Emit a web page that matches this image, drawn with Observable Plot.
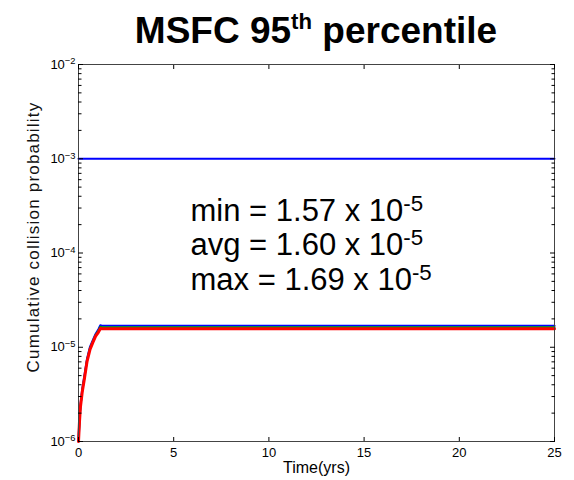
<!DOCTYPE html>
<html>
<head>
<meta charset="utf-8">
<script src="https://cdn.jsdelivr.net/npm/d3@7"></script>
<script src="https://cdn.jsdelivr.net/npm/@observablehq/plot@0.6"></script>
<style>
  body { margin: 0; background: #fff; font-family: "Liberation Sans", Arial, sans-serif; }
  #title { height: 50px; padding-top: 12px; line-height: 37px; font-size: 37px; font-weight: bold; text-align: center; padding-left: 58px; box-sizing: border-box; width: 574px; color: #000; white-space: nowrap; }
  #title sup { font-size: 0.6em; line-height: 0; vertical-align: 0.62em; }
</style>
</head>
<body>
<div id="title">MSFC 95<sup>th</sup> percentile</div>
<div id="chart"></div>
<script>
// Data
const times   = [0, 0.05, 0.1, 0.2, 0.3, 0.45, 0.6, 0.75, 0.9, 1.05, 1.15, 1.22, 25];
const maxRun  = [1.0e-6, 1.7e-6, 2.4e-6, 3.6e-6, 4.8e-6, 7.5e-6, 1.0e-5, 1.18e-5, 1.38e-5, 1.55e-5, 1.71e-5, 1.69e-5, 1.69e-5];
const avgRun  = [1.0e-6, 1.65e-6, 2.35e-6, 3.5e-6, 4.6e-6, 7.3e-6, 9.7e-6, 1.15e-5, 1.35e-5, 1.5e-5, 1.65e-5, 1.63e-5, 1.63e-5];
const minRun  = [1.0e-6, 1.6e-6, 2.3e-6, 3.4e-6, 4.5e-6, 7.1e-6, 9.4e-6, 1.12e-5, 1.31e-5, 1.45e-5, 1.58e-5, 1.57e-5, 1.57e-5];
const threshold = 1e-3;
const xTicks = [0, 5, 10, 15, 20, 25];
const yDecades = [1e-6, 1e-5, 1e-4, 1e-3, 1e-2];
const yDecadeLabels = ["10^−6", "10^−5", "10^−4", "10^−3", "10^−2"];
const statLabels = ["min = 1.57 x 10^-5", "avg = 1.60 x 10^-5", "max = 1.69 x 10^-5"];
const seriesNames = ["max", "avg", "min"];
const seriesColors = ["#0000ff", "#00a000", "#ff0000"];
const xLabel = "Time(yrs)";
const yLabel = "Cumulative collision probability";

const yMinor = [];
for (let e = -6; e < -2; e++) for (let m = 2; m <= 9; m++) yMinor.push(+(m + "e" + e));

const rows = [];
[maxRun, avgRun, minRun].forEach((arr, s) => {
  times.forEach((t, i) => rows.push({t, p: arr[i], s: seriesNames[s]}));
});
const thrRows = [{t: 0, p: threshold}, {t: 25, p: threshold}];

const font = "Liberation Sans, Arial, sans-serif";
const lineWidths = {max: 2.2, avg: 2, min: 3};

const marks = [
  Plot.line(thrRows, {x: "t", y: "p", stroke: "#0000ff", strokeWidth: 2}),
  ...seriesNames.map((n, k) => Plot.line(rows.filter(r => r.s === n), {x: "t", y: "p", stroke: seriesColors[k], strokeWidth: lineWidths[n]})),
  Plot.frame({stroke: "#444", strokeWidth: 1}),
  Plot.axisX({ticks: xTicks, anchor: "bottom", tickSize: -4, tickPadding: 10, tickFormat: d => String(d), fontSize: 13, label: null}),
  Plot.axisX({ticks: xTicks, anchor: "top", tickSize: -4, tickFormat: () => "", label: null}),
  Plot.axisY({ticks: yDecades, anchor: "left", tickSize: -5, tickPadding: 8, tickFormat: d => yDecadeLabels[yDecades.indexOf(d)], fontSize: 13, label: null}),
  Plot.axisY({ticks: yMinor, anchor: "left", tickSize: -3.5, tickFormat: () => "", label: null}),
  Plot.axisY({ticks: yDecades, anchor: "right", tickSize: -5, tickFormat: () => "", label: null}),
  Plot.axisY({ticks: yMinor, anchor: "right", tickSize: -3.5, tickFormat: () => "", label: null}),
  Plot.text([xLabel], {frameAnchor: "bottom", dy: 26.5, lineAnchor: "middle", fontSize: 16, fill: "#000"}),
  Plot.text([yLabel], {frameAnchor: "left", dx: -45, dy: -16, rotate: -90, textAnchor: "middle", lineAnchor: "middle", fontSize: 17, fill: "#111"}),
  ...statLabels.map((s, i) => Plot.text([s], {frameAnchor: "top-left", dx: 112, dy: 146.4 + 34.5 * i, textAnchor: "start", lineAnchor: "middle", fontSize: 31, fill: "#000"}))
];

const chart = Plot.plot({
  width: 574,
  height: 430,
  marginTop: 14,
  marginBottom: 39,
  marginLeft: 78,
  marginRight: 20,
  style: {fontFamily: font, background: "#fff", color: "#000"},
  x: {domain: [0, 25]},
  y: {type: "log", domain: [1e-6, 1e-2]},
  marks
});

chart.querySelectorAll("text").forEach(t => {
  const s = t.textContent;
  if (s === yLabel) t.setAttribute("letter-spacing", "1.2");
  if (!s.includes("^")) return;
  const [b, e] = s.split("^");
  t.textContent = b;
  const ts = document.createElementNS("http://www.w3.org/2000/svg", "tspan");
  ts.setAttribute("dy", "-0.45em");
  ts.setAttribute("font-size", "0.72em");
  ts.textContent = e;
  t.appendChild(ts);
});

document.getElementById("chart").appendChild(chart);
</script>
</body>
</html>
